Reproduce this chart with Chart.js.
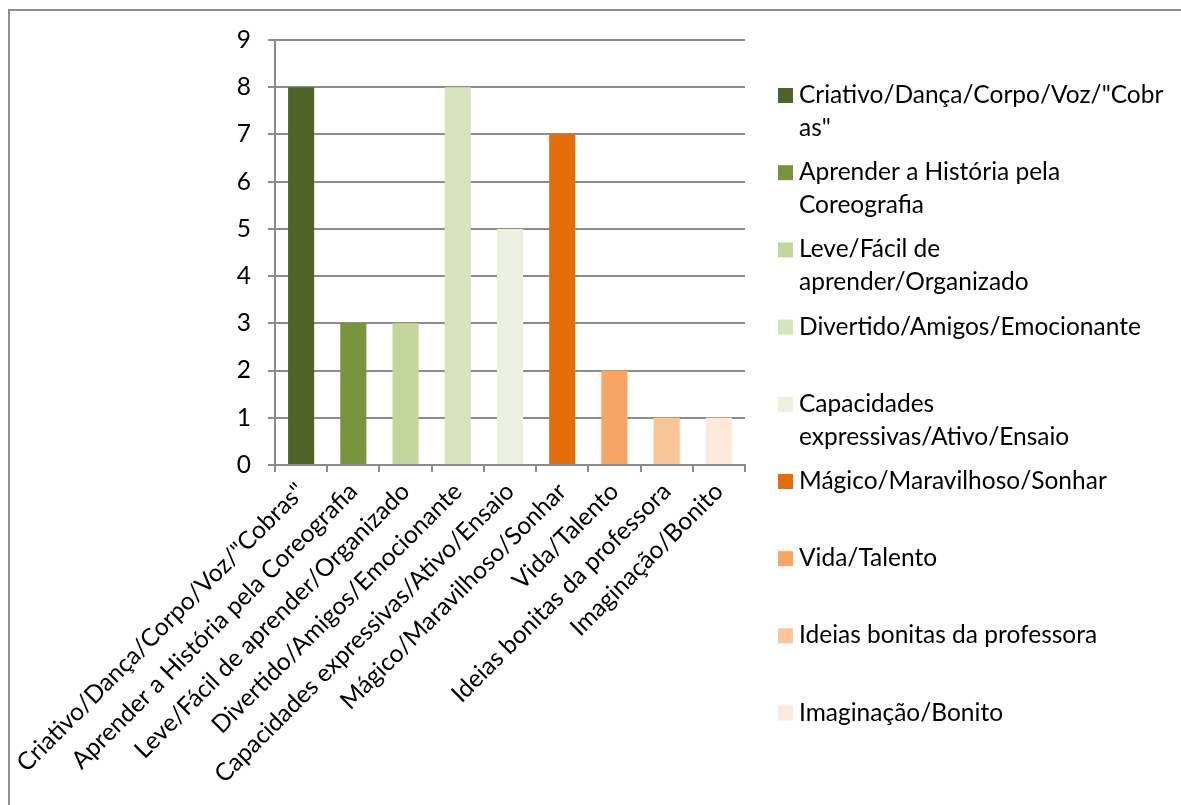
<!DOCTYPE html>
<html>
<head>
<meta charset="utf-8">
<script src="https://cdn.jsdelivr.net/npm/chart.js@4.4.1/dist/chart.umd.min.js"></script>
<style>
  html, body { margin: 0; padding: 0; background: #fff; overflow: hidden; }
  #frame { position: absolute; left: 8px; top: 9px; width: 1400px; height: 1000px; border: 2px solid #8e8e8e; }
  #chart { position: absolute; left: 0; top: 0; }
</style>
</head>
<body>
<div id="frame"></div>
<canvas id="chart" width="1181" height="805"></canvas>
<script>
// Données
const categories = [
  'Criativo/Dança/Corpo/Voz/"Cobras"',
  'Aprender a História pela Coreografia',
  'Leve/Fácil de aprender/Organizado',
  'Divertido/Amigos/Emocionante',
  'Capacidades expressivas/Ativo/Ensaio',
  'Mágico/Maravilhoso/Sonhar',
  'Vida/Talento',
  'Ideias bonitas da professora',
  'Imaginação/Bonito'
];
const values = [8, 3, 3, 8, 5, 7, 2, 1, 1];
const barColors = ['#4F6228', '#77933C', '#C3D69B', '#D7E4BD', '#EBF1DE', '#E46C0A', '#F6A565', '#FAC598', '#FDE9D9'];
const yMin = 0;
const yMax = 9;
const yStep = 1;

const FONT = 'Lato';
const FONT_SIZE = 24.5;
const GRID = '#8c8c8c';

// coupe un libellé en lignes (mots, puis caractères si un mot est trop long)
function wrapText(ctx, text, maxWidth) {
  const lines = [];
  let cur = '';
  text.split(' ').forEach(word => {
    const test = cur ? cur + ' ' + word : word;
    if (ctx.measureText(test).width <= maxWidth) {
      cur = test;
      return;
    }
    if (cur) lines.push(cur);
    cur = '';
    for (const ch of word) {
      if (ctx.measureText(cur + ch).width > maxWidth && cur) {
        lines.push(cur);
        cur = ch;
      } else {
        cur += ch;
      }
    }
  });
  if (cur) lines.push(cur);
  return lines;
}

// Légende à droite, façon Excel
const sideLegend = {
  id: 'sideLegend',
  afterDraw(chart) {
    const ctx = chart.ctx;
    ctx.save();
    ctx.font = FONT_SIZE + 'px ' + FONT;
    ctx.textBaseline = 'middle';
    chart.data.labels.forEach((label, i) => {
      const y = 95 + i * 77.2;
      ctx.fillStyle = chart.data.datasets[0].backgroundColor[i];
      ctx.fillRect(778, y - 7, 15, 15);
      ctx.fillStyle = '#000';
      wrapText(ctx, label, 367).forEach((line, j) => {
        ctx.fillText(line, 799, y + j * 33);
      });
    });
    ctx.restore();
  }
};

const ctx = document.getElementById('chart').getContext('2d');
new Chart(ctx, {
  type: 'bar',
  data: {
    labels: categories,
    datasets: [{
      data: values,
      backgroundColor: barColors,
      barPercentage: 0.5,
      categoryPercentage: 1
    }]
  },
  options: {
    responsive: false,
    animation: false,
    devicePixelRatio: 1,
    layout: { padding: { left: 0, top: 40, right: 436, bottom: 0 } },
    plugins: {
      legend: { display: false },
      tooltip: { enabled: false }
    },
    scales: {
      x: {
        grid: { drawOnChartArea: false, tickLength: 7, color: GRID, lineWidth: 2 },
        border: { color: GRID, width: 2 },
        ticks: {
          autoSkip: false,
          minRotation: 45,
          maxRotation: 45,
          color: '#000',
          padding: 5,
          font: { family: FONT, size: FONT_SIZE }
        },
        afterFit(scale) { scale.height = 805 - 465; }
      },
      y: {
        min: yMin,
        max: yMax,
        grid: { color: GRID, lineWidth: 2, tickLength: 7 },
        border: { color: GRID, width: 2 },
        ticks: {
          stepSize: yStep,
          padding: 17,
          color: '#000',
          font: { family: FONT, size: FONT_SIZE }
        },
        afterFit(scale) { scale.width = 275; }
      }
    }
  },
  plugins: [sideLegend]
});
</script>
</body>
</html>
